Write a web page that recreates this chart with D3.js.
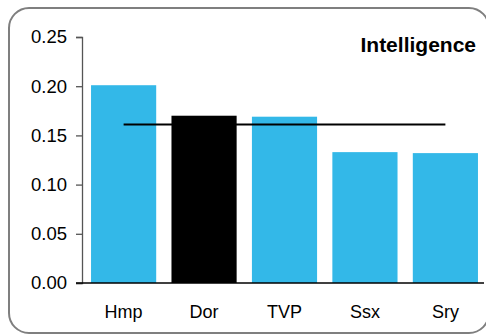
<!DOCTYPE html>
<html>
<head>
<meta charset="utf-8">
<script src="https://cdn.jsdelivr.net/npm/d3@7"></script>
<style>
  body { margin: 0; background: #fff; }
  svg { display: block; font-family: "Liberation Sans", Arial, sans-serif; }
</style>
</head>
<body>
<svg class="chart" width="486" height="334"></svg>
<script>
// data
const categories = ["Hmp", "Dor", "TVP", "Ssx", "Sry"];
const values = [0.201, 0.170, 0.169, 0.133, 0.132];
const highlighted = "Dor";
const averageValue = [0.161];
const yTicks = [0, 0.05, 0.10, 0.15, 0.20, 0.25];
const title = "Intelligence";

const svg = d3.select(".chart");

const blueColor = "#33b8e8";
const highlightColor = "#000000";

// rounded frame
svg.append("rect")
  .attr("x", 9)
  .attr("y", 8)
  .attr("width", 480)
  .attr("height", 325)
  .attr("rx", 20)
  .attr("fill", "none")
  .attr("stroke", "#7f7f7f")
  .attr("stroke-width", 2);

const yScale = d3.scaleLinear().domain([0, 0.25]).range([283, 37]);
const xScale = d3.scaleBand()
  .domain(categories)
  .range([85, 484])
  .paddingInner(0.19)
  .paddingOuter(0.075);

const axisX = 82;

// y axis
const yAxis = svg.append("g")
  .attr("transform", "translate(" + axisX + ",0)")
  .call(d3.axisLeft(yScale)
    .tickValues(yTicks)
    .tickSize(6)
    .tickPadding(9)
    .tickFormat(d3.format(".2f")));
yAxis.select(".domain").attr("stroke", "#555").attr("stroke-width", 1.3);
yAxis.selectAll(".tick line").attr("stroke", "#555").attr("stroke-width", 1.3);
yAxis.selectAll("text")
  .style("font-size", "18.5px")
  .attr("fill", "#000");

// bars
const data = categories.map((c, i) => ({ categ: c, value: values[i] }));
svg.selectAll(".bar")
  .data(data)
  .enter()
  .append("rect")
  .attr("class", "bar")
  .attr("x", d => xScale(d.categ))
  .attr("y", d => yScale(d.value))
  .attr("width", xScale.bandwidth())
  .attr("height", d => yScale(0) - yScale(d.value))
  .style("fill", d => d.categ === highlighted ? highlightColor : blueColor);

// x axis
const xAxis = svg.append("g")
  .attr("transform", "translate(0," + yScale(0) + ")")
  .call(d3.axisBottom(xScale).tickSize(0).tickPadding(22));
xAxis.select(".domain").remove();
xAxis.selectAll("text")
  .style("font-size", "18px")
  .attr("fill", "#000");

svg.append("line")
  .attr("x1", axisX - 6)
  .attr("x2", 484)
  .attr("y1", yScale(0))
  .attr("y2", yScale(0))
  .attr("stroke", "#000")
  .attr("stroke-width", 1.3);

// average line
const first = categories[0];
const last = categories[categories.length - 1];
svg.selectAll(".avg-line")
  .data(averageValue)
  .enter()
  .append("line")
  .attr("class", "avg-line")
  .attr("x1", xScale(first) + xScale.bandwidth() / 2)
  .attr("x2", xScale(last) + xScale.bandwidth() / 2)
  .attr("y1", d => yScale(d))
  .attr("y2", d => yScale(d))
  .attr("stroke", "#000")
  .attr("stroke-width", 2);

// title
svg.append("text")
  .attr("x", 476)
  .attr("y", 52)
  .attr("text-anchor", "end")
  .style("font-size", "21px")
  .style("font-weight", "bold")
  .text(title);
</script>
</body>
</html>
